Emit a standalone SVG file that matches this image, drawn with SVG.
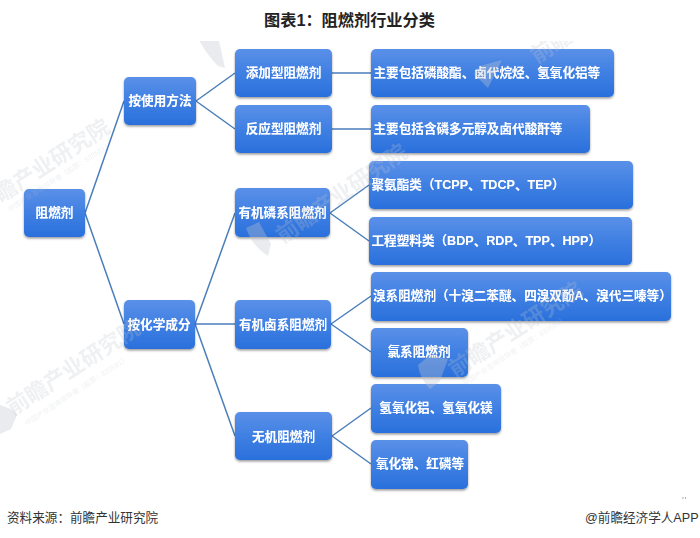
<svg xmlns="http://www.w3.org/2000/svg" width="700" height="538" viewBox="0 0 700 538">
<style>
text{font-family:"Liberation Sans","Noto Sans CJK SC",sans-serif}
.n rect{fill:url(#g);filter:url(#s)}
.n text{fill:#fff;font-size:12.600px;font-weight:700;text-anchor:middle;filter:url(#t)}
.n text.l{text-anchor:start}
#connectors path{fill:none;stroke:#4a7ebb;stroke-width:1.5}
.w{fill:#bfc5cf;opacity:.25;font-weight:700;font-size:22px}
.w2{fill:#bfc5cf;opacity:.25;font-size:7px}
.c{fill:#bfc5cf;opacity:.35}
.f{fill:#333;font-size:12.600px}
</style>
<defs>
<linearGradient id="g" x1="0" y1="0" x2="0" y2="1"><stop offset="0" stop-color="#5a90e8"/><stop offset=".55" stop-color="#3d7ee2"/><stop offset="1" stop-color="#2a70dc"/></linearGradient>
<filter id="s" x="-10%" y="-10%" width="120%" height="130%"><feDropShadow dx="0" dy="1.5" stdDeviation="1.2" flood-color="#000" flood-opacity=".4"/></filter>
<filter id="t" x="-5%" y="-20%" width="110%" height="140%"><feDropShadow dx="0" dy="0" stdDeviation=".5" flood-color="#dfe9fb" flood-opacity=".5"/></filter>
<clipPath id="clip"><rect x="0" y="41" width="700" height="450"/></clipPath>
</defs>
<rect width="700" height="538" fill="#fff"/>
<text x="349.500" y="26" text-anchor="middle" font-size="16.200" font-weight="700" fill="#222">图表1&#xFF1A;阻燃剂行业分类</text>
<g id="connectors">
<path d="M85 213L124 101M85 213L124 324"/>
<path d="M196 101L235 73M196 101L235 129"/>
<path d="M195 324L235 213M195 324H235M195 324L235 436"/>
<path d="M332 73H371M332 129H371"/>
<path d="M330 213L369 185M330 213L369 241"/>
<path d="M331 324L371 296M331 324L371 352"/>
<path d="M332 436L371 408M332 436L371 464"/>
</g>
<g id="n1" class="n"><rect x="24" y="189" width="61" height="48" rx="5"/><text x="54.500" y="217">阻燃剂</text></g>
<g id="n2" class="n"><rect x="124" y="77" width="72" height="48" rx="5"/><text x="160" y="105">按使用方法</text></g>
<g id="n3" class="n"><rect x="124" y="300" width="71" height="49" rx="5"/><text x="159" y="329">按化学成分</text></g>
<g id="n4" class="n"><rect x="235" y="49" width="97" height="48" rx="5"/><text x="283.500" y="77">添加型阻燃剂</text></g>
<g id="n5" class="n"><rect x="235" y="105" width="97" height="48" rx="5"/><text x="283.500" y="133">反应型阻燃剂</text></g>
<g id="n6" class="n"><rect x="235" y="188" width="95" height="49" rx="5"/><text x="282.500" y="217">有机磷系阻燃剂</text></g>
<g id="n7" class="n"><rect x="235" y="300" width="96" height="49" rx="5"/><text x="283" y="329">有机卤系阻燃剂</text></g>
<g id="n8" class="n"><rect x="235" y="412" width="97" height="48" rx="5"/><text x="283.500" y="441">无机阻燃剂</text></g>
<g id="n9" class="n"><rect x="371" y="49" width="243" height="48" rx="5"/><text class="l" x="373.500" y="77">主要包括磷酸酯、卤代烷烃、氢氧化铝等</text></g>
<g id="n10" class="n"><rect x="371" y="105" width="219" height="48" rx="5"/><text class="l" x="373.500" y="133">主要包括含磷多元醇及卤代酸酐等</text></g>
<g id="n11" class="n"><rect x="369" y="161" width="264" height="48" rx="5"/><text class="l" x="371.500" y="189">聚氨酯类&#xFF08;TCPP、TDCP、TEP&#xFF09;</text></g>
<g id="n12" class="n"><rect x="369" y="217" width="263" height="48" rx="5"/><text class="l" x="371.500" y="245">工程塑料类&#xFF08;BDP、RDP、TPP、HPP&#xFF09;</text></g>
<g id="n13" class="n"><rect x="371" y="272" width="300" height="49" rx="5"/><text class="l" x="373" y="300">溴系阻燃剂&#xFF08;十溴二苯醚、四溴双酚A、溴代三嗪等&#xFF09;</text></g>
<g id="n14" class="n"><rect x="371" y="328" width="97" height="49" rx="5"/><text x="419" y="356">氯系阻燃剂</text></g>
<g id="n15" class="n"><rect x="371" y="384" width="130" height="49" rx="5"/><text x="436" y="412">氢氧化铝、氢氧化镁</text></g>
<g id="n16" class="n"><rect x="371" y="440" width="97" height="49" rx="5"/><text x="420" y="468">氧化锑、红磷等</text></g>
<g id="watermarks" clip-path="url(#clip)">
<path class="c" d="M200 42q8 14 18 24l7 2-6-27h-19z"/>
<path class="c" d="M246 228q6 18 22 28l3-12-12-22z"/>
<path class="c" d="M0 405q14 4 17 10l-6 14-11 5z"/>
<path class="c" d="M418 365q2 14 12 24l10-8 8-22-18-4z"/>
<path class="c" d="M502 60l-22 6-6 8 14 14z"/>
<text class="w" transform="translate(1 203) rotate(-33)">瞻产业研究院</text>
<text class="w" transform="translate(283 244) rotate(-35)">前瞻产业研究院</text>
<text class="w" transform="translate(13 416) rotate(-33)">前瞻产业研究院</text>
<text class="w" transform="translate(455 378) rotate(-33)">前瞻产业研究院</text>
<text class="w" transform="translate(537 64) rotate(-33)">前瞻</text>
<text class="w2" transform="translate(27 426) rotate(-33)">中国产业咨询领导者&#xFF08;股票&#xFF1A;833581&#xFF09;</text>
<text class="w2" transform="translate(10 212) rotate(-33)">中国产业咨询领导者&#xFF08;股票&#xFF1A;833581&#xFF09;</text>
<text class="w2" transform="translate(465 386) rotate(-33)">中国产业咨询领导者&#xFF08;股票&#xFF1A;833581&#xFF09;</text>
</g>
<path d="M682 498.500l2-1M685.500 497v2" stroke="#999" stroke-width=".8" fill="none"/>
<text class="f" x="7" y="522">资料来源&#xFF1A;前瞻产业研究院</text>
<text class="f" x="585" y="522">@前瞻经济学人APP</text>
</svg>
